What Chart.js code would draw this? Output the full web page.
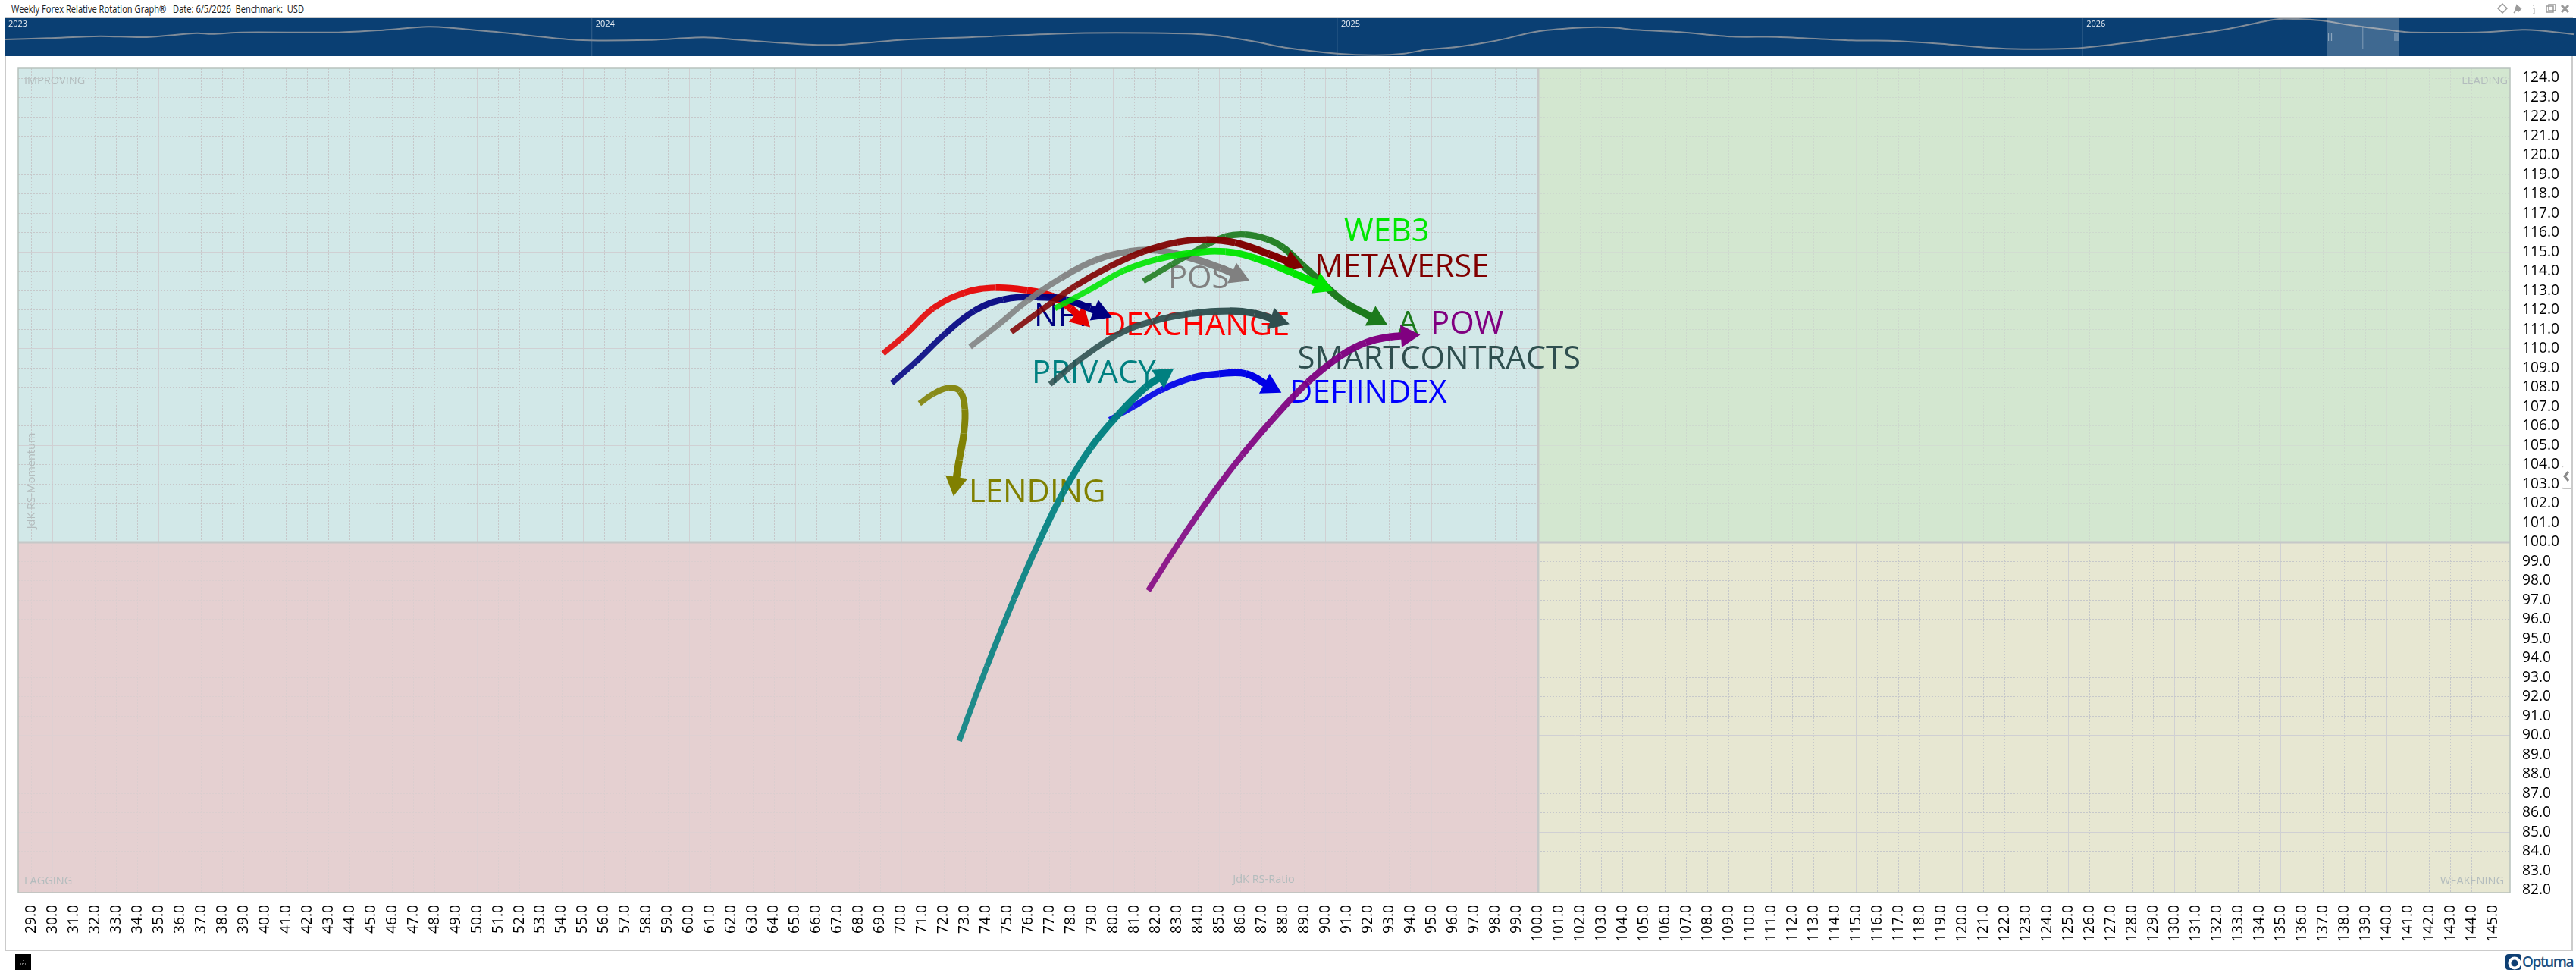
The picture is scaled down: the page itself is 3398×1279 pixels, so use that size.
<!DOCTYPE html>
<html>
<head>
<meta charset="utf-8">
<title>Weekly Forex Relative Rotation Graph</title>
<script src="https://cdn.jsdelivr.net/npm/chart.js@4/dist/chart.umd.js"></script>
<style>
  html, body { margin: 0; padding: 0; background: #fff; overflow: hidden; }
  body { width: 3398px; height: 1279px; position: relative; font-family: "Open Sans", sans-serif; }
  canvas { position: absolute; display: block; }
  .abs { position: absolute; }
  #frame { left: 6px; top: 23px; width: 3384px; height: 1227px; border: 2px solid #cbcbcb; }
  #title { left: 15px; top: 3px; font-size: 13.6px; line-height: 18px; color: #222; white-space: pre; transform: scaleX(0.82); transform-origin: left; }
  #handle { left: 3379px; top: 614px; width: 12px; height: 29px; background: #fff; border: 1px solid #c4c4c4; border-right: none; border-radius: 3px 0 0 3px; }
  #blackBox { left: 20px; top: 1258px; width: 21px; height: 21px; background: #000; }
  #logoMark { left: 3305px; top: 1258px; width: 21px; height: 21px; background: #0e3f73; border-radius: 4px; }
  #logoText { left: 3327px; top: 1255px; font-size: 19px; line-height: 26px; font-weight: 600; color: #1d4f80; letter-spacing: -1.4px; }
</style>
</head>
<body>
<div id="frame" class="abs"></div>
<div id="title" class="abs">Weekly Forex Relative Rotation Graph®   Date: 6/5/2026  Benchmark:  USD</div>
<svg class="abs" style="left:3290px;top:0" width="108" height="24" fill="none" stroke="#9a9a9a" stroke-width="1.5">
  <path d="M11 5 L17 11 L11 17 L5 11 Z"/>
  <path d="M26 17 L31 11 M29 6 L36 12 M30 7 L28 12 L32 15 L35 12" fill="#9a9a9a"/>
  <path d="M52 7 v1 M51 11 h2 v7 h-2" stroke="#c4c4c4"/>
  <rect x="69" y="8" width="9" height="8"/><rect x="72" y="6" width="9" height="8"/>
  <path d="M89 7 L98 16 M98 7 L89 16" stroke-width="3"/>
</svg>
<div id="handle" class="abs"></div>
<svg class="abs" style="left:3381px;top:620px" width="10" height="16"><path d="M7 2 L2 8 L7 14" fill="none" stroke="#8a8a8a" stroke-width="3"/></svg>
<div id="blackBox" class="abs"></div>
<svg class="abs" style="left:20px;top:1258px" width="21" height="21"><path d="M11 6 v9 M7 13 h8" stroke="#ddd" stroke-width="1" stroke-dasharray="1 1"/></svg>
<div id="logoMark" class="abs"></div>
<svg class="abs" style="left:3305px;top:1258px" width="21" height="21"><circle cx="12" cy="12" r="6.5" fill="none" stroke="#fff" stroke-width="4"/></svg>
<div id="logoText" class="abs">Optuma</div>
<canvas id="nav" width="3392" height="50" style="left:6px;top:24px"></canvas>
<canvas id="rrg" width="3398" height="1279" style="left:0;top:0"></canvas>
<script>
// series, last point sits in the middle of the arrow head
var seriesNames = ["DEXCHANGE", "NFT", "POS", "A", "METAVERSE", "WEB3", "SMARTCONTRACTS", "DEFIINDEX", "PRIVACY", "LENDING", "POW"];
var seriesColors = ["#e60000", "#000080", "#808080", "#1c7a1c", "#800000", "#00e600", "#2f4f4f", "#0000e6", "#008080", "#808000", "#800080"];
var labelColors = ["#ff0000", "#000080", "#808080", "#1c7a1c", "#800000", "#00e600", "#2f4f4f", "#0000ff", "#008080", "#808000", "#800080"];

var dexchangeX = [69.14, 70.24, 71.49, 72.97, 74.45, 75.93, 77.07, 77.98, 78.46];
var dexchangeY = [109.76, 110.78, 112.09, 112.90, 113.16, 113.03, 112.74, 112.09, 111.58];
var nftX = [69.55, 70.69, 72.06, 73.43, 74.79, 76.39, 77.75, 78.89, 79.36];
var nftY = [108.23, 109.34, 110.78, 111.96, 112.55, 112.68, 112.55, 112.09, 111.88];
var posX = [73.24, 74.56, 75.93, 77.53, 79.12, 80.72, 82.08, 83.45, 85.04, 85.85];
var posY = [110.10, 111.24, 112.48, 113.66, 114.57, 115.03, 115.09, 114.77, 114.18, 113.79];
var aX = [81.40, 82.77, 84.36, 85.27, 86.18, 87.21, 88.00, 88.92, 89.83, 90.97, 92.36];
var aY = [113.50, 114.38, 115.36, 115.81, 115.91, 115.68, 115.23, 114.31, 113.40, 112.35, 111.55];
var metaverseX = [75.18, 76.61, 78.21, 79.80, 81.40, 82.99, 84.36, 85.73, 87.32, 88.40];
var metaverseY = [110.87, 112.02, 113.26, 114.25, 115.03, 115.51, 115.64, 115.49, 114.90, 114.43];
var web3X = [77.23, 78.89, 80.49, 82.08, 83.68, 85.27, 86.64, 88.46, 89.80];
var web3Y = [112.09, 113.07, 114.05, 114.64, 114.96, 115.03, 114.70, 113.92, 113.27];
var smartX = [77.00, 78.44, 80.26, 81.85, 83.68, 85.50, 86.64, 87.70];
var smartY = [108.17, 109.47, 110.78, 111.43, 111.83, 111.96, 111.83, 111.48];
var defiX = [79.81, 80.96, 82.23, 83.69, 84.97, 86.24, 87.37];
var defiY = [106.33, 107.03, 107.87, 108.50, 108.71, 108.71, 108.05];
var privacyX = [72.72, 74.03, 75.31, 76.49, 77.68, 78.95, 80.23, 81.50, 82.33];
var privacyY = [89.73, 93.58, 97.08, 100.03, 102.69, 104.93, 106.61, 108.01, 108.62];
var lendingX = [70.85, 71.48, 72.21, 72.76, 72.99, 72.94, 72.72, 72.55];
var lendingY = [107.17, 107.66, 107.98, 107.80, 106.89, 105.63, 104.23, 103.04];
var powX = [81.63, 83.15, 84.60, 86.06, 87.70, 89.16, 90.74, 91.88, 93.02, 93.84];
var powY = [97.50, 100.10, 102.41, 104.51, 106.61, 108.29, 109.67, 110.32, 110.62, 110.68];

var allX = [dexchangeX, nftX, posX, aX, metaverseX, web3X, smartX, defiX, privacyX, lendingX, powX];
var allY = [dexchangeY, nftY, posY, aY, metaverseY, web3Y, smartY, defiY, privacyY, lendingY, powY];

// where the text of each series starts, in chart units
var labelX = [79.50, 76.25, 82.57, 93.39, 89.47, 90.86, 88.66, 88.29, 76.14, 73.18, 94.93];
var labelY = [110.71, 111.18, 113.14, 110.78, 113.73, 115.57, 108.98, 107.22, 108.24, 102.08, 110.78];

// overview strip along the top
var navYears = [2023.21, 2023.27, 2023.34, 2023.40, 2023.47, 2023.49, 2023.53, 2023.66, 2023.72, 2023.78, 2023.81, 2023.88, 2023.98,
  2024.08, 2024.15, 2024.20, 2024.29, 2024.34, 2024.42, 2024.51, 2024.65, 2024.77, 2024.83, 2024.89, 2024.93,
  2025.00, 2025.05, 2025.09, 2025.12, 2025.16, 2025.21, 2025.27, 2025.33, 2025.37, 2025.40, 2025.46, 2025.53, 2025.59, 2025.69, 2025.74, 2025.81, 2025.87, 2025.92,
  2026.00, 2026.11, 2026.19, 2026.25, 2026.27, 2026.32, 2026.36, 2026.42, 2026.44, 2026.53, 2026.59, 2026.61, 2026.66];
var navValues = [66, 71, 79, 75, 91, 88, 94, 94, 103, 116, 112, 93, 64,
  64, 74, 64, 46, 46, 65, 75, 91, 91, 84, 57, 34,
  10, 4, 10, 26, 36, 59, 98, 113, 113, 104, 95, 77, 76, 62, 61, 49, 34, 28,
  33, 72, 105, 141, 148, 141, 122, 100, 94, 94, 104, 102, 86];
var navYearLabels = ["2023", "2024", "2025", "2026"];
var navLabelYears = [2023.215, 2024, 2025, 2026];

var sansFont = '"Open Sans", sans-serif';

function mix(hex, alpha) {
  var n = parseInt(hex.slice(1), 16);
  return "rgba(" + (n >> 16) + "," + ((n >> 8) & 255) + "," + (n & 255) + "," + alpha + ")";
}

var datasets = seriesNames.map(function (name, i) {
  var xs = allX[i], ys = allY[i], last = xs.length - 1, color = seriesColors[i];
  return {
    label: name,
    data: xs.map(function (x, k) { return { x: x, y: ys[k] }; }),
    tension: 0.4,
    borderCapStyle: "butt",
    borderColor: color,
    segment: {
      // the tail is thin and washed out, the head end is thick and solid
      borderWidth: function (ctx) { return 7.5 + 2.5 * ctx.p0DataIndex / last; },
      borderColor: function (ctx) { return mix(color, 0.85 + 0.15 * ctx.p1DataIndex / last); },
    },
    pointStyle: "triangle",
    pointBorderWidth: 0,
    pointBackgroundColor: color,
    pointRadius: function (ctx) { return ctx.dataIndex === last ? 17 : 0; },
    pointRotation: function (ctx) {
      var dx = (xs[last] - xs[last - 1]) * 28, dy = (ys[last] - ys[last - 1]) * 25.5;
      return Math.atan2(dx, dy) * 180 / Math.PI;
    },
    order: 99 - i,
  };
});

var quadrants = {
  id: "quadrants",
  beforeDraw: function (chart) {
    var a = chart.chartArea, c = chart.ctx;
    var mx = chart.scales.x.getPixelForValue(100), my = chart.scales.y.getPixelForValue(100);
    c.save();
    c.fillStyle = "#d2e8e8"; c.fillRect(a.left, a.top, mx - a.left, my - a.top);
    c.fillStyle = "#d3e7d0"; c.fillRect(mx, a.top, a.right - mx, my - a.top);
    c.fillStyle = "#e5d0d1"; c.fillRect(a.left, my, mx - a.left, a.bottom - my);
    c.fillStyle = "#e7e7d2"; c.fillRect(mx, my, a.right - mx, a.bottom - my);
    c.restore();
  },
  beforeDatasetsDraw: function (chart) {
    var a = chart.chartArea, c = chart.ctx;
    var mx = chart.scales.x.getPixelForValue(100), my = chart.scales.y.getPixelForValue(100);
    c.save();
    // grid is much fainter in the lagging and leading boxes
    c.fillStyle = "rgba(229,208,209,0.7)"; c.fillRect(a.left, my, mx - a.left, a.bottom - my);
    c.fillStyle = "rgba(211,231,208,0.55)"; c.fillRect(mx, a.top, a.right - mx, my - a.top);
    c.strokeStyle = "#c6c8c8"; c.lineWidth = 3;
    c.beginPath(); c.moveTo(mx, a.top); c.lineTo(mx, a.bottom); c.moveTo(a.left, my); c.lineTo(a.right, my); c.stroke();
    c.strokeStyle = "#b8c2bd"; c.lineWidth = 1.5;
    c.strokeRect(a.left, a.top, a.right - a.left, a.bottom - a.top);

    c.fillStyle = "#b3bcbd";
    c.font = "14.5px " + sansFont;
    c.textBaseline = "middle";
    c.textAlign = "left";
    c.fillText("IMPROVING", a.left + 8, 107);
    c.fillText("LAGGING", a.left + 8, 1162);
    c.textAlign = "right";
    c.fillText("LEADING", a.right - 3, 107);
    c.fillText("WEAKENING", a.right - 8, 1162);
    c.textAlign = "center";
    c.fillText("JdK RS-Ratio", 1667, 1160);
    c.translate(42, 634);
    c.rotate(-Math.PI / 2);
    c.fillText("JdK RS-Momentum", 0, 0);
    c.restore();

    // names go under the lines
    c.save();
    c.font = "41.8px " + sansFont;
    c.textAlign = "left";
    c.textBaseline = "alphabetic";
    seriesNames.forEach(function (name, i) {
      c.fillStyle = labelColors[i];
      c.fillText(name, chart.scales.x.getPixelForValue(labelX[i]), chart.scales.y.getPixelForValue(labelY[i]));
    });
    c.restore();
  },
};

var tickFont = { family: sansFont, size: 19.2 };
var gridColor = function (ctx) { return ctx.tick.value % 5 === 0 ? "#d0d0d3" : "#c6c8ca"; };
var gridDash = function (ctx) { return ctx.tick.value % 5 === 0 ? [] : [2, 2]; };
var tickText = function (v) { return Number(v).toFixed(1); };

new Chart(document.getElementById("rrg"), {
  type: "line",
  data: { datasets: datasets },
  plugins: [quadrants],
  options: {
    responsive: false,
    animation: false,
    devicePixelRatio: 1,
    layout: { padding: { left: 24, top: 90, right: 0, bottom: 0 } },
    plugins: { legend: { display: false }, tooltip: { enabled: false } },
    scales: {
      x: {
        type: "linear",
        min: 28.39,
        max: 145.79,
        afterFit: function (s) { s.height = 102; },
        border: { display: false, dash: gridDash },
        grid: { color: gridColor, lineWidth: 1, drawTicks: false },
        ticks: {
          stepSize: 1, autoSkip: false, includeBounds: false, minRotation: 90, maxRotation: 90,
          padding: 16, color: "#000", font: tickFont, callback: tickText,
        },
      },
      y: {
        type: "linear",
        position: "right",
        min: 81.88,
        max: 124.51,
        afterFit: function (s) { s.width = 87; },
        border: { display: false, dash: gridDash },
        grid: { color: gridColor, lineWidth: 1, drawTicks: false },
        ticks: {
          stepSize: 1, includeBounds: false, autoSkip: false, crossAlign: "near",
          padding: 16, color: "#000", font: tickFont, callback: tickText,
        },
      },
    },
  },
});

var navExtras = {
  id: "navExtras",
  beforeDraw: function (chart) {
    var c = chart.ctx;
    c.save();
    c.fillStyle = "#0a3f73";
    c.fillRect(0, 0, chart.width, chart.height);
    c.restore();
  },
  beforeDatasetsDraw: function (chart) {
    var c = chart.ctx, sx = chart.scales.x;
    c.save();
    c.font = "11px " + sansFont;
    c.textBaseline = "middle";
    navLabelYears.forEach(function (yr, i) {
      var px = sx.getPixelForValue(yr);
      if (i > 0) {
        c.strokeStyle = "rgba(255,255,255,0.18)";
        c.beginPath(); c.moveTo(px, 0); c.lineTo(px, chart.height); c.stroke();
      }
      c.fillStyle = "#e8eef4";
      c.fillText(navYearLabels[i], px + (i > 0 ? 5 : 2), 8);
    });
    c.restore();
  },
  afterDatasetsDraw: function (chart) {
    var c = chart.ctx, sx = chart.scales.x;
    var from = sx.getPixelForValue(2026.328), to = sx.getPixelForValue(2026.425), mid = sx.getPixelForValue(2026.376);
    c.save();
    c.fillStyle = "rgba(255,255,255,0.22)";
    c.fillRect(from, 0, to - from, chart.height);
    c.strokeStyle = "rgba(255,255,255,0.35)";
    c.beginPath(); c.moveTo(mid, 12); c.lineTo(mid, 40); c.stroke();
    c.strokeStyle = "rgba(255,255,255,0.45)";
    [2, 4, 6].forEach(function (d) {
      c.beginPath(); c.moveTo(from + d, 20); c.lineTo(from + d, 30); c.stroke();
      c.beginPath(); c.moveTo(to - d, 20); c.lineTo(to - d, 30); c.stroke();
    });
    c.restore();
  },
};

new Chart(document.getElementById("nav"), {
  type: "line",
  data: {
    datasets: [{
      data: navYears.map(function (yr, i) { return { x: yr, y: navValues[i] }; }),
      borderColor: "#7f8b98",
      borderWidth: 2,
      pointRadius: 0,
      tension: 0.3,
    }],
  },
  plugins: [navExtras],
  options: {
    responsive: false,
    animation: false,
    devicePixelRatio: 1,
    plugins: { legend: { display: false }, tooltip: { enabled: false } },
    scales: {
      x: { type: "linear", display: false, min: 2023.212, max: 2026.662 },
      y: { display: false, min: 0, max: 150 },
    },
  },
});
</script>
</body>
</html>
